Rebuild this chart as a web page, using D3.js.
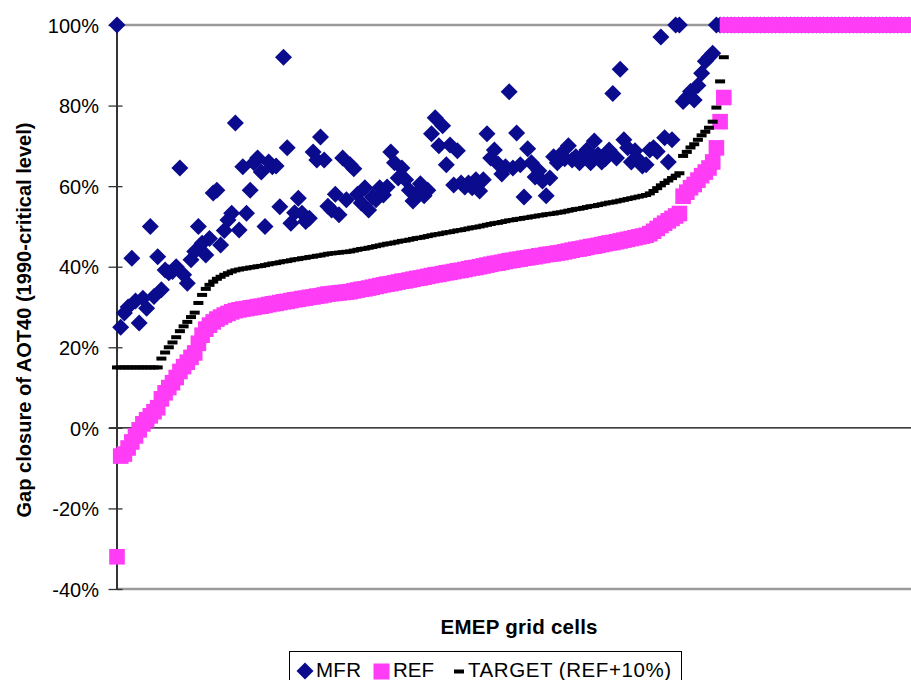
<!DOCTYPE html>
<html>
<head>
<meta charset="utf-8">
<script src="https://cdn.jsdelivr.net/npm/d3@7"></script>
<style>
  html, body { margin: 0; padding: 0; background: #fff; }
  svg { display: block; font-family: "Liberation Sans", Arial, sans-serif; }
</style>
</head>
<body>
<svg id="chart" width="911" height="680"></svg>
<script>
// Gap closure of AOT40 per EMEP grid cell (%), cells sorted by REF
const mfr = [
  100, 25, 28.5, 30, 42.1, 31.5, 26, 32.2, 29.7, 50,
  32.6, 42.5, 34.3, 39.2, 38.5, 38.8, 40, 64.5, 38, 35.9,
  41.7, 43.8, 50, 45.8, 42.9, 47, 58.3, 59, 45.4, 49,
  51.6, 53.3, 75.7, 49.1, 64.8, 53.3, 59, 65.8, 67, 63.5,
  50, 66, 64.8, 65, 54.9, 92, 69.5, 50.8, 53.4, 57,
  53.3, 51.2, 52, 68.5, 66.5, 72.2, 66.5, 55, 54.1, 58,
  52.9, 67, 56.6, 65.3, 64.3, 58, 55.8, 59.6, 54.1, 57.3,
  56.6, 59.6, 57.8, 59.8, 68.5, 65.8, 62, 64.5, 61.6, 59,
  56.3, 58.3, 60.6, 57.6, 59, 73, 77, 70, 75, 65.3,
  70.2, 60.3, 68.8, 60.8, 59.8, 60.8, 59.6, 61.6, 58.8, 61.6,
  73, 67, 69, 65.5, 63, 64.8, 83.4, 64.5, 73.2, 65.3,
  57.3, 69.3, 65.8, 62.3, 63.8, 61.3, 57.6, 62, 67.3, 65.8,
  68, 66.8, 70, 66.5, 67.3, 65.8, 67.8, 69, 65.8, 71.2,
  67.8, 66, 66.8, 69, 83, 67, 89, 71.5, 69.5, 66,
  68.8, 66.5, 65, 65.3, 69, 69.5, 68.6, 97, 72, 66,
  71.5, 100, 100, 81, 82, 83.5, 81.4, 85, 88, 91,
  92, 93, 100, 100, 100,
  100, 100, 100, 100, 100, 100, 100, 100, 100, 100,
  100, 100, 100, 100, 100, 100, 100, 100, 100, 100,
  100, 100, 100, 100, 100, 100, 100, 100, 100, 100,
  100, 100, 100, 100, 100, 100, 100, 100, 100, 100,
  100, 100, 100, 100, 100, 100, 100, 100, 100, 100,
  100
];

const ref = [
  -32, -7, -6.5, -5, -3.5, -2, -0.5, 1, 2, 3,
  4, 5, 7.2, 8.7, 10, 11.2, 12.5, 14, 15.2, 16.3,
  17.5, 18.6, 21, 23, 24.5, 25.5, 26.3, 27, 27.5, 28,
  28.4, 28.8, 29.1, 29.3, 29.5, 29.6, 29.8, 29.9, 30.1, 30.2,
  30.4, 30.6, 30.8, 30.9, 31.1, 31.3, 31.4, 31.6, 31.8, 31.9,
  32.1, 32.2, 32.4, 32.5, 32.7, 32.8, 33, 33.2, 33.3, 33.4,
  33.5, 33.6, 33.7, 33.8, 34, 34.2, 34.4, 34.5, 34.7, 34.9,
  35.1, 35.3, 35.5, 35.7, 35.8, 36, 36.2, 36.4, 36.5, 36.7,
  36.9, 37.1, 37.2, 37.4, 37.6, 37.8, 38, 38.1, 38.3, 38.5,
  38.6, 38.8, 39, 39.1, 39.3, 39.5, 39.7, 39.8, 40, 40.2,
  40.4, 40.6, 40.8, 40.9, 41.1, 41.3, 41.5, 41.6, 41.8, 41.9,
  42.1, 42.2, 42.4, 42.5, 42.7, 42.8, 43, 43.1, 43.2, 43.4,
  43.5, 43.7, 43.9, 44.1, 44.3, 44.4, 44.6, 44.8, 45, 45.1,
  45.3, 45.5, 45.7, 45.9, 46, 46.2, 46.4, 46.6, 46.8, 47,
  47.2, 47.4, 47.6, 47.8, 48.2, 48.8, 49.5, 50.2, 50.8, 51.4,
  52, 52.6, 53.2, 57.5, 58.5, 59.6, 60.4, 61.5, 62.6, 63.5,
  64.5, 66, 69.5, 76, 82,
  100, 100, 100, 100, 100, 100, 100, 100, 100, 100,
  100, 100, 100, 100, 100, 100, 100, 100, 100, 100,
  100, 100, 100, 100, 100, 100, 100, 100, 100, 100,
  100, 100, 100, 100, 100, 100, 100, 100, 100, 100,
  100, 100, 100, 100, 100, 100, 100, 100, 100, 100,
  100
];

const target = [
  15, 15, 15, 15, 15, 15, 15, 15, 15, 15,
  15, 15, 17.2, 18.7, 20, 21.2, 22.5, 24, 25.2, 26.3,
  27.5, 28.6, 31, 33, 34.5, 35.5, 36.3, 37, 37.5, 38,
  38.4, 38.8, 39.1, 39.3, 39.5, 39.6, 39.8, 39.9, 40.1, 40.2,
  40.4, 40.6, 40.8, 40.9, 41.1, 41.3, 41.4, 41.6, 41.8, 41.9,
  42.1, 42.2, 42.4, 42.5, 42.7, 42.8, 43, 43.2, 43.3, 43.4,
  43.5, 43.6, 43.7, 43.8, 44, 44.2, 44.4, 44.5, 44.7, 44.9,
  45.1, 45.3, 45.5, 45.7, 45.8, 46, 46.2, 46.4, 46.5, 46.7,
  46.9, 47.1, 47.2, 47.4, 47.6, 47.8, 48, 48.1, 48.3, 48.5,
  48.6, 48.8, 49, 49.1, 49.3, 49.5, 49.7, 49.8, 50, 50.2,
  50.4, 50.6, 50.8, 50.9, 51.1, 51.3, 51.5, 51.6, 51.8, 51.9,
  52.1, 52.2, 52.4, 52.5, 52.7, 52.8, 53, 53.1, 53.2, 53.4,
  53.5, 53.7, 53.9, 54.1, 54.3, 54.4, 54.6, 54.8, 55, 55.1,
  55.3, 55.5, 55.7, 55.9, 56, 56.2, 56.4, 56.6, 56.8, 57,
  57.2, 57.4, 57.6, 57.8, 58.2, 58.8, 59.5, 60.2, 60.8, 61.4,
  62, 62.6, 63.2, 67.5, 68.5, 69.6, 70.4, 71.5, 72.6, 73.5,
  74.5, 76, 79.5, 86, 92,
  110, 110, 110, 110, 110, 110, 110, 110, 110, 110,
  110, 110, 110, 110, 110, 110, 110, 110, 110, 110,
  110, 110, 110, 110, 110, 110, 110, 110, 110, 110,
  110, 110, 110, 110, 110, 110, 110, 110, 110, 110,
  110, 110, 110, 110, 110, 110, 110, 110, 110, 110,
  110
];

const yTicks = [-40, -20, 0, 20, 40, 60, 80, 100];
const seriesNames = ["MFR", "REF", "TARGET (REF+10%)"];
const yTitle = "Gap closure of AOT40 (1990-critical level)";
const xTitle = "EMEP grid cells";

const colors = { mfr: "#0b0b8e", ref: "#ff3cf6", target: "#000000" };

const cells = d3.range(mfr.length);
const svg = d3.select("#chart");

const plotLeft = 117, plotRight = 911;
const x = d3.scaleLinear().domain([0, cells.length - 1]).range([117, 912.5]);
const y = d3.scaleLinear().domain([-40, 100]).range([589, 25]);

svg.append("rect").attr("width", 911).attr("height", 680).attr("fill", "#fff");

// plot area border lines (top and bottom)
[100, -40].forEach(v => {
  svg.append("line")
    .attr("x1", plotLeft).attr("x2", plotRight)
    .attr("y1", y(v)).attr("y2", y(v))
    .attr("stroke", "#9a9a9a").attr("stroke-width", 2.4);
});

// category axis at 0%
svg.append("line")
  .attr("x1", 109).attr("x2", plotRight)
  .attr("y1", y(0)).attr("y2", y(0))
  .attr("stroke", "#000").attr("stroke-width", 1.3);

// value axis
const yAxis = d3.axisLeft(y)
  .tickValues(yTicks)
  .tickFormat(d => d + "%")
  .tickSizeInner(8)
  .tickSizeOuter(0)
  .tickPadding(10);

const gy = svg.append("g")
  .attr("transform", "translate(116.5,0)")
  .call(yAxis);
gy.select(".domain").attr("stroke", "#333").attr("stroke-width", 2);
gy.selectAll(".tick line").attr("x1", 6).attr("stroke", "#333").attr("stroke-width", 1.3);
gy.selectAll(".tick text")
  .attr("font-size", 20)
  .attr("fill", "#000")
  .attr("font-family", "Liberation Sans, Arial, sans-serif")
  .attr("x", -17.5)
  .attr("dy", "0.36em");

// axis titles
svg.append("text")
  .attr("transform", "translate(31,320) rotate(-90)")
  .attr("text-anchor", "middle")
  .attr("font-size", 20).attr("font-weight", "bold")
  .attr("textLength", 395).attr("lengthAdjust", "spacing")
  .text(yTitle);

svg.append("text")
  .attr("x", 519).attr("y", 634)
  .attr("text-anchor", "middle")
  .attr("font-size", 20.5).attr("font-weight", "bold")
  .attr("textLength", 157).attr("lengthAdjust", "spacing")
  .text(xTitle);

const inRange = v => v != null && v >= -40 && v <= 100;
const diamond = "M0,-8.5L8.5,0L0,8.5L-8.5,0Z";

// MFR diamonds
svg.append("g").selectAll("path")
  .data(cells.filter(i => inRange(mfr[i])))
  .join("path")
  .attr("d", diamond)
  .attr("transform", i => `translate(${x(i)},${y(mfr[i])})`)
  .attr("fill", colors.mfr);

// REF squares
svg.append("g").selectAll("rect")
  .data(cells.filter(i => inRange(ref[i])))
  .join("rect")
  .attr("x", i => x(i) - 7.8).attr("y", i => y(ref[i]) - 7.8)
  .attr("width", 15.6).attr("height", 15.6)
  .attr("fill", colors.ref);

// TARGET dashes
svg.append("g").selectAll("rect")
  .data(cells.filter(i => inRange(target[i])))
  .join("rect")
  .attr("x", i => x(i) - 5).attr("y", i => y(target[i]) - 2)
  .attr("width", 10).attr("height", 4)
  .attr("fill", colors.target);

// legend
const lg = svg.append("g");
lg.append("rect")
  .attr("x", 289.5).attr("y", 651.5)
  .attr("width", 392).attr("height", 40)
  .attr("fill", "#fff").attr("stroke", "#000").attr("stroke-width", 1);
lg.append("path").attr("d", diamond)
  .attr("transform", "translate(305,671)").attr("fill", colors.mfr);
lg.append("text").attr("x", 316).attr("y", 677).attr("font-size", 20.5)
  .attr("textLength", 45).attr("lengthAdjust", "spacing").text(seriesNames[0]);
lg.append("rect").attr("x", 373.5).attr("y", 663.5).attr("width", 16).attr("height", 16)
  .attr("fill", colors.ref);
lg.append("text").attr("x", 393).attr("y", 677).attr("font-size", 20.5)
  .attr("textLength", 41).attr("lengthAdjust", "spacing").text(seriesNames[1]);
lg.append("rect").attr("x", 454).attr("y", 669.5).attr("width", 10).attr("height", 4)
  .attr("fill", colors.target);
lg.append("text").attr("x", 468).attr("y", 677).attr("font-size", 20.5)
  .attr("textLength", 203).attr("lengthAdjust", "spacing").text(seriesNames[2]);
</script>
</body>
</html>
